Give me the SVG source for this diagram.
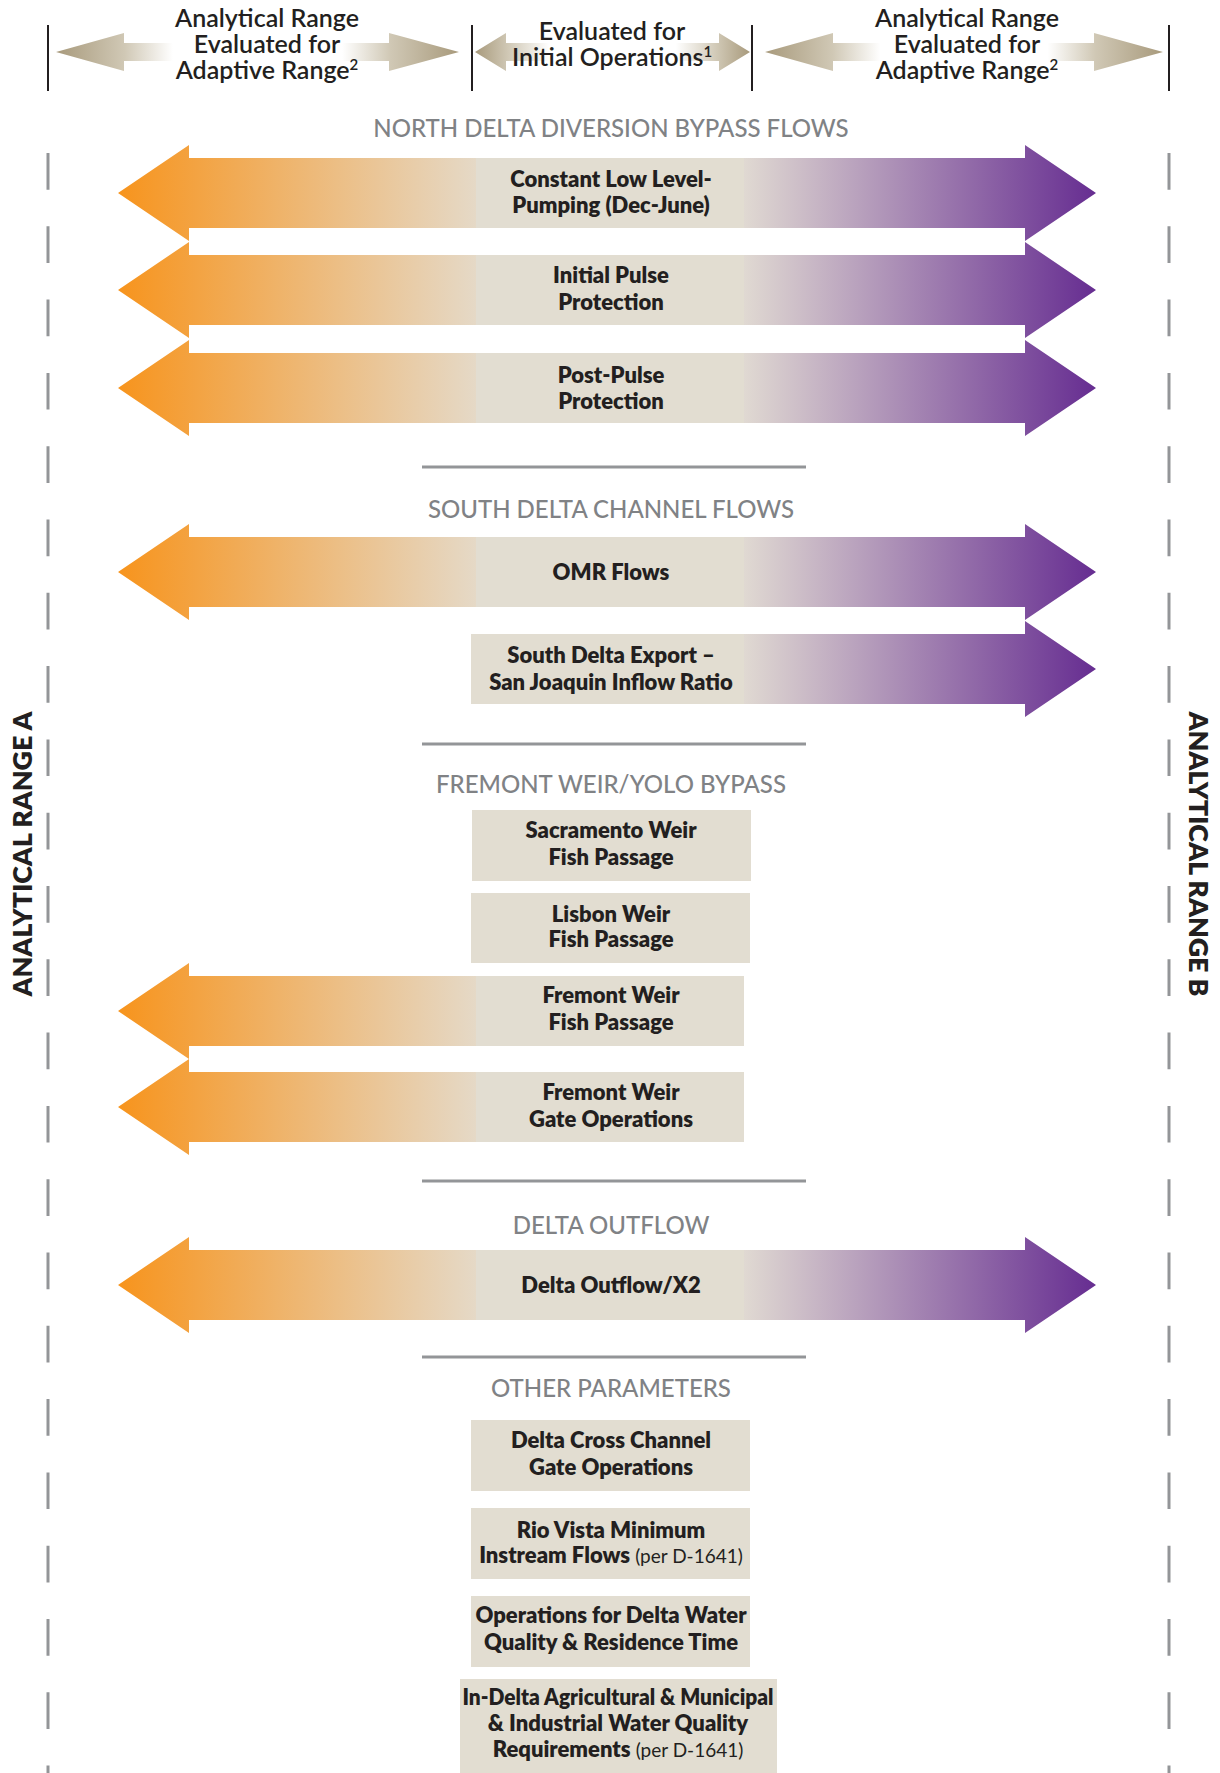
<svg xmlns="http://www.w3.org/2000/svg" xmlns:xlink="http://www.w3.org/1999/xlink" width="1220" height="1773" viewBox="0 0 1220 1773">
<style>
text{font-family:Lato,"Liberation Sans",sans-serif;fill:#231f20;text-anchor:middle}
.hdr{font-size:25px;font-weight:600}
.sup{font-size:15px}
.ttl{font-size:24px;font-weight:500;fill:#808285}
.lbl{font-size:22px;font-weight:800}
.per{font-size:19px;font-weight:normal}
.side{font-size:26px;font-weight:800}
.box{fill:#e2ddd1}
.sep{stroke:#939598;stroke-width:3;fill:none}
.vline{stroke:#231f20;stroke-width:2;fill:none}
.dash{stroke:#939598;stroke-width:3;fill:none;stroke-dasharray:36.7 36.6}
</style>
<defs>
<linearGradient id="gO" gradientUnits="userSpaceOnUse" x1="118" y1="0" x2="477" y2="0">
<stop offset="0" stop-color="#f7941d"/><stop offset="1" stop-color="#e5d9c7"/>
</linearGradient>
<linearGradient id="gP" gradientUnits="userSpaceOnUse" x1="744" y1="0" x2="1096" y2="0">
<stop offset="0" stop-color="#e0d9d2"/><stop offset="1" stop-color="#662d91"/>
</linearGradient>
<linearGradient id="hL" gradientUnits="userSpaceOnUse" x1="56" y1="0" x2="459" y2="0">
<stop offset="0" stop-color="#a89a7c"/><stop offset="0.17" stop-color="#d0c8b5"/><stop offset="0.29" stop-color="#fff"/><stop offset="0.71" stop-color="#fff"/><stop offset="0.83" stop-color="#d0c8b5"/><stop offset="1" stop-color="#a89a7c"/>
</linearGradient>
<linearGradient id="hM" gradientUnits="userSpaceOnUse" x1="475" y1="0" x2="750" y2="0">
<stop offset="0" stop-color="#a89a7c"/><stop offset="0.12" stop-color="#d0c8b5"/><stop offset="0.27" stop-color="#fff"/><stop offset="0.73" stop-color="#fff"/><stop offset="0.88" stop-color="#d0c8b5"/><stop offset="1" stop-color="#a89a7c"/>
</linearGradient>
<linearGradient id="hR" gradientUnits="userSpaceOnUse" x1="765" y1="0" x2="1163" y2="0">
<stop offset="0" stop-color="#a89a7c"/><stop offset="0.17" stop-color="#d0c8b5"/><stop offset="0.29" stop-color="#fff"/><stop offset="0.71" stop-color="#fff"/><stop offset="0.83" stop-color="#d0c8b5"/><stop offset="1" stop-color="#a89a7c"/>
</linearGradient>
<path id="lh" d="M118,0 L189,-48 L189,-35 L478,-35 L478,35 L189,35 L189,48 Z" fill="url(#gO)"/>
<path id="rh" d="M743,-35 L1025,-35 L1025,-48 L1096,0 L1025,48 L1025,35 L743,35 Z" fill="url(#gP)"/>
<rect id="mid" x="476" y="-35" width="268" height="70" class="box"/>
</defs>

<g id="frame">
<line class="vline" x1="48" y1="25" x2="48" y2="91"/>
<line class="vline" x1="472" y1="25" x2="472" y2="91"/>
<line class="vline" x1="752" y1="25" x2="752" y2="91"/>
<line class="vline" x1="1169" y1="25" x2="1169" y2="91"/>
<line class="dash" x1="48" y1="153" x2="48" y2="1773"/>
<line class="dash" x1="1169" y1="153" x2="1169" y2="1773"/>
<text class="side" transform="translate(32,854) rotate(-90)" textLength="285" lengthAdjust="spacingAndGlyphs">ANALYTICAL RANGE A</text>
<text class="side" transform="translate(1189,854) rotate(90)" textLength="285" lengthAdjust="spacingAndGlyphs">ANALYTICAL RANGE B</text>
</g>

<g id="header-left">
<path d="M56,52 L124,33 L124,43 L389,43 L389,33 L459,52 L389,71 L389,61 L124,61 L124,71 Z" fill="url(#hL)"/>
<text class="hdr" x="267" y="27">Analytical Range</text>
<text class="hdr" x="267" y="53">Evaluated for</text>
<text class="hdr" x="267" y="79">Adaptive Range<tspan class="sup" dy="-9">2</tspan></text>
</g>
<g id="header-mid">
<path d="M475,52 L506,33 L506,43 L719,43 L719,33 L750,52 L719,71 L719,61 L506,61 L506,71 Z" fill="url(#hM)"/>
<text class="hdr" x="612" y="40">Evaluated for</text>
<text class="hdr" x="612" y="66">Initial Operations<tspan class="sup" dy="-9">1</tspan></text>
</g>
<g id="header-right">
<path d="M765,52 L833,33 L833,43 L1094,43 L1094,33 L1163,52 L1094,71 L1094,61 L833,61 L833,71 Z" fill="url(#hR)"/>
<text class="hdr" x="967" y="27">Analytical Range</text>
<text class="hdr" x="967" y="53">Evaluated for</text>
<text class="hdr" x="967" y="79">Adaptive Range<tspan class="sup" dy="-9">2</tspan></text>
</g>

<g id="separators">
<line class="sep" x1="422" y1="467" x2="806" y2="467"/>
<line class="sep" x1="422" y1="744" x2="806" y2="744"/>
<line class="sep" x1="422" y1="1181" x2="806" y2="1181"/>
<line class="sep" x1="422" y1="1357" x2="806" y2="1357"/>
</g>

<g id="titles">
<text class="ttl" x="611" y="137">NORTH DELTA DIVERSION BYPASS FLOWS</text>
<text class="ttl" x="611" y="518">SOUTH DELTA CHANNEL FLOWS</text>
<text class="ttl" x="611" y="793">FREMONT WEIR/YOLO BYPASS</text>
<text class="ttl" x="611" y="1234">DELTA OUTFLOW</text>
<text class="ttl" x="611" y="1397">OTHER PARAMETERS</text>
</g>

<g id="constant-low-level-pumping">
<use href="#lh" y="193"/><use href="#rh" y="193"/><use href="#mid" y="193"/>
<text class="lbl" x="611" y="187">Constant Low Level-</text>
<text class="lbl" x="611" y="213">Pumping (Dec-June)</text>
</g>
<g id="initial-pulse-protection">
<use href="#lh" y="290"/><use href="#rh" y="290"/><use href="#mid" y="290"/>
<text class="lbl" x="611" y="283">Initial Pulse</text>
<text class="lbl" x="611" y="310">Protection</text>
</g>
<g id="post-pulse-protection">
<use href="#lh" y="388"/><use href="#rh" y="388"/><use href="#mid" y="388"/>
<text class="lbl" x="611" y="383">Post-Pulse</text>
<text class="lbl" x="611" y="409">Protection</text>
</g>
<g id="omr-flows">
<use href="#lh" y="572"/><use href="#rh" y="572"/><use href="#mid" y="572"/>
<text class="lbl" x="611" y="580">OMR Flows</text>
</g>
<g id="south-delta-export">
<use href="#rh" y="669"/>
<rect x="471" y="634" width="273" height="70" class="box"/>
<text class="lbl" x="611" y="663">South Delta Export –</text>
<text class="lbl" x="611" y="690">San Joaquin Inflow Ratio</text>
</g>
<g id="sacramento-weir">
<rect x="472" y="810" width="279" height="71" class="box"/>
<text class="lbl" x="611" y="838">Sacramento Weir</text>
<text class="lbl" x="611" y="865">Fish Passage</text>
</g>
<g id="lisbon-weir">
<rect x="471" y="893" width="279" height="70" class="box"/>
<text class="lbl" x="611" y="922">Lisbon Weir</text>
<text class="lbl" x="611" y="947">Fish Passage</text>
</g>
<g id="fremont-weir-fish">
<use href="#lh" y="1011"/><use href="#mid" y="1011"/>
<text class="lbl" x="611" y="1003">Fremont Weir</text>
<text class="lbl" x="611" y="1030">Fish Passage</text>
</g>
<g id="fremont-weir-gate">
<use href="#lh" y="1107"/><use href="#mid" y="1107"/>
<text class="lbl" x="611" y="1100">Fremont Weir</text>
<text class="lbl" x="611" y="1127">Gate Operations</text>
</g>
<g id="delta-outflow">
<use href="#lh" y="1285"/><use href="#rh" y="1285"/><use href="#mid" y="1285"/>
<text class="lbl" x="611" y="1293">Delta Outflow/X2</text>
</g>
<g id="delta-cross-channel">
<rect x="471" y="1420" width="279" height="71" class="box"/>
<text class="lbl" x="611" y="1448">Delta Cross Channel</text>
<text class="lbl" x="611" y="1475">Gate Operations</text>
</g>
<g id="rio-vista">
<rect x="471" y="1508" width="279" height="71" class="box"/>
<text class="lbl" x="611" y="1538">Rio Vista Minimum</text>
<text class="lbl" x="611" y="1563">Instream Flows <tspan class="per">(per D-1641)</tspan></text>
</g>
<g id="delta-water-quality">
<rect x="471" y="1596" width="279" height="71" class="box"/>
<text class="lbl" x="611" y="1623">Operations for Delta Water</text>
<text class="lbl" x="611" y="1650">Quality &amp; Residence Time</text>
</g>
<g id="in-delta-water-quality">
<rect x="460" y="1679" width="317" height="94" class="box"/>
<text class="lbl" x="618" y="1705" textLength="311" lengthAdjust="spacingAndGlyphs">In-Delta Agricultural &amp; Municipal</text>
<text class="lbl" x="618" y="1731">&amp; Industrial Water Quality</text>
<text class="lbl" x="618" y="1757">Requirements <tspan class="per">(per D-1641)</tspan></text>
</g>
</svg>
